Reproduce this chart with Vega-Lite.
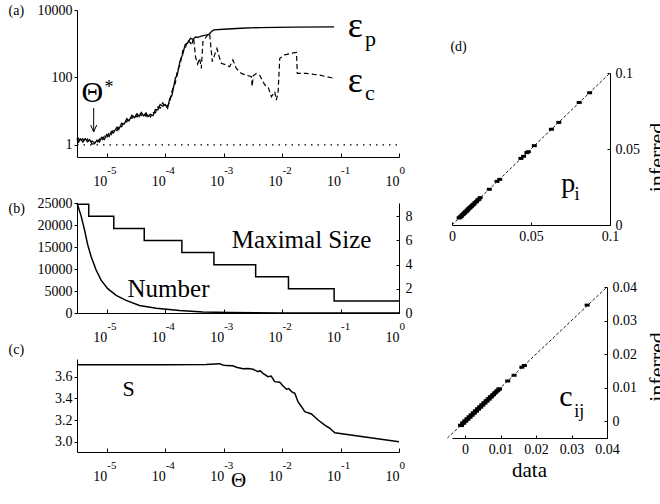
{
"$schema":"https://vega.github.io/schema/vega-lite/v6.json",
"background":"white",
"padding":{"left":8,"top":3,"right":0,"bottom":0},
"config":{"font":"Liberation Serif","view":{"stroke":null},
 "axis":{"domainColor":"black","tickColor":"black","labelColor":"black","titleColor":"black","grid":false,"labelFlush":false,"labelOverlap":false,"titleFontWeight":"normal","domainWidth":1,"tickWidth":1,"labelFont":"Liberation Serif","titleFont":"Liberation Serif","tickCount":20},
 "style":{"guide-label":{"font":"Liberation Serif"},"guide-title":{"font":"Liberation Serif"}},
 "title":{"font":"Liberation Serif","fontWeight":"normal","color":"black"}},
"spacing":33,
"hconcat":[
{"vconcat":[
 {"width":322,"height":147,
  "layer":[
   {"layer":[
   {"data":{"values":[
{"x":3.1e-6,"y":1.58},{"x":3.3e-6,"y":1.22},{"x":3.6e-6,"y":1.51},{"x":3.9e-6,"y":1.22},{"x":4.3e-6,"y":1.55},{"x":4.7e-6,"y":1.24},{"x":5.1e-6,"y":1.43},{"x":5.6e-6,"y":1.07},{"x":6.2e-6,"y":1.10},{"x":6.8e-6,"y":1.38},{"x":7.5e-6,"y":1.22},{"x":8.2e-6,"y":1.68},{"x":9.1e-6,"y":1.45},{"x":1.0e-5,"y":2.04},{"x":1.1e-5,"y":1.78},{"x":1.2e-5,"y":2.51},{"x":1.3e-5,"y":2.29},{"x":1.5e-5,"y":3.35},{"x":1.6e-5,"y":2.88},{"x":1.8e-5,"y":4.37},{"x":2.0e-5,"y":4.17},{"x":2.2e-5,"y":6.03},{"x":2.4e-5,"y":5.13},{"x":2.7e-5,"y":7.59},{"x":3.0e-5,"y":6.46},{"x":3.3e-5,"y":8.51},{"x":3.6e-5,"y":6.92},{"x":3.9e-5,"y":9.12},{"x":4.3e-5,"y":7.24},{"x":4.7e-5,"y":8.91},{"x":5.1e-5,"y":6.92},{"x":5.6e-5,"y":8.13},{"x":6.2e-5,"y":7.41},{"x":6.8e-5,"y":11.2},{"x":7.5e-5,"y":11.0},{"x":8.2e-5,"y":15.8},{"x":9.1e-5,"y":14.1},{"x":1.0e-4,"y":15.8},{"x":1.1e-4,"y":12.3},{"x":1.2e-4,"y":24.0},{"x":1.3e-4,"y":28.8},{"x":1.5e-4,"y":97.7},{"x":1.6e-4,"y":112},{"x":1.8e-4,"y":316},{"x":2.0e-4,"y":490},{"x":2.2e-4,"y":955},{"x":2.4e-4,"y":1023},{"x":2.7e-4,"y":1445},{"x":3.0e-4,"y":1349},{"x":3.3e-4,"y":1585},{"x":3.6e-4,"y":1549},{"x":4.3e-4,"y":1698},{"x":5.1e-4,"y":1820},{"x":5.6e-4,"y":1905},{"x":6.2e-4,"y":2291},{"x":6.8e-4,"y":2570},{"x":1.0e-3,"y":2690},{"x":2.0e-3,"y":2880},{"x":4.2e-3,"y":3020},{"x":1.6e-2,"y":3090},{"x":7.76e-2,"y":3160}]},
    "mark":{"type":"line","color":"black","strokeWidth":1.3},
    "encoding":{
     "x":{"field":"x","type":"quantitative","scale":{"type":"log","domain":[3.1e-6,1],"nice":false},
      "axis":{"values":[0.00001,0.0001,0.001,0.01,0.1,1],"tickCount":20,"labelExpr":"'10'","labelAlign":"right","labelBaseline":"top","labelPadding":21,"tickSize":-4,"title":null,"labelFontSize":14,"labelFont":"Liberation Serif","labelOverlap":false}},
     "y":{"field":"y","type":"quantitative","scale":{"type":"log","domain":[0.44,10000],"nice":false},
      "axis":{"values":[1,100,10000],"tickCount":20,"format":"d","tickSize":3,"labelPadding":2,"labelFontSize":14,"labelFont":"Liberation Serif","labelOverlap":false,"title":"(a)","titleFont":"Liberation Serif","titleAngle":0,"titleAlign":"left","titleBaseline":"middle","titleX":-69,"titleY":0,"titleFontSize":14}}}},
   {"data":{"values":[
{"x":3.1e-6,"y":1.32},{"x":3.3e-6,"y":1.57},{"x":3.6e-6,"y":1.26},{"x":3.9e-6,"y":1.53},{"x":4.3e-6,"y":1.20},{"x":4.7e-6,"y":1.50},{"x":5.1e-6,"y":1.19},{"x":5.6e-6,"y":1.32},{"x":6.2e-6,"y":1.17},{"x":6.8e-6,"y":1.12},{"x":7.5e-6,"y":1.50},{"x":8.2e-6,"y":1.30},{"x":9.1e-6,"y":1.82},{"x":1.0e-5,"y":1.62},{"x":1.1e-5,"y":2.29},{"x":1.2e-5,"y":2.04},{"x":1.3e-5,"y":2.82},{"x":1.5e-5,"y":2.66},{"x":1.6e-5,"y":3.63},{"x":1.8e-5,"y":3.47},{"x":2.0e-5,"y":5.13},{"x":2.2e-5,"y":4.79},{"x":2.4e-5,"y":6.61},{"x":2.7e-5,"y":6.17},{"x":3.0e-5,"y":8.13},{"x":3.3e-5,"y":6.76},{"x":3.6e-5,"y":8.91},{"x":3.9e-5,"y":7.41},{"x":4.3e-5,"y":9.12},{"x":4.7e-5,"y":7.08},{"x":5.1e-5,"y":8.71},{"x":5.6e-5,"y":6.76},{"x":6.2e-5,"y":9.12},{"x":6.8e-5,"y":8.91},{"x":7.5e-5,"y":13.5},{"x":8.2e-5,"y":12.3},{"x":9.1e-5,"y":17.8},{"x":1.0e-4,"y":12.9},{"x":1.1e-4,"y":14.8},{"x":1.2e-4,"y":18.2},{"x":1.3e-4,"y":38.9},{"x":1.5e-4,"y":70.8},{"x":1.6e-4,"y":155},{"x":1.8e-4,"y":240},{"x":2.0e-4,"y":631},{"x":2.2e-4,"y":708},{"x":2.4e-4,"y":1259},{"x":2.7e-4,"y":1072},
{"x":2.83e-4,"y":891},{"x":3.06e-4,"y":1514},{"x":3.31e-4,"y":398},{"x":3.58e-4,"y":251},{"x":3.88e-4,"y":372},{"x":4.15e-4,"y":186},{"x":4.42e-4,"y":1148},{"x":5.05e-4,"y":1622},{"x":5.75e-4,"y":2042},{"x":6.40e-4,"y":295},{"x":7.01e-4,"y":468},{"x":7.68e-4,"y":724},{"x":8.30e-4,"y":437},{"x":9.13e-4,"y":263},{"x":1.11e-3,"y":234},{"x":1.27e-3,"y":209},{"x":1.44e-3,"y":331},{"x":1.65e-3,"y":186},{"x":2.01e-3,"y":132},{"x":2.45e-3,"y":117},{"x":2.98e-3,"y":105},{"x":3.08e-3,"y":53.7},{"x":3.20e-3,"y":112},{"x":3.63e-3,"y":132},{"x":4.14e-3,"y":117},{"x":5.04e-3,"y":60.3},{"x":5.74e-3,"y":53.7},{"x":6.57e-3,"y":26.9},{"x":7.48e-3,"y":38.0},{"x":7.94e-3,"y":21.4},{"x":8.53e-3,"y":33.9},{"x":9.12e-3,"y":372},{"x":1.11e-2,"y":468},{"x":1.45e-2,"y":525},{"x":1.76e-2,"y":550},{"x":1.82e-2,"y":132},{"x":2.61e-2,"y":132},{"x":4.42e-2,"y":117},{"x":7.46e-2,"y":95.5}]},
    "mark":{"type":"line","color":"black","strokeWidth":1.2,"strokeDash":[5,3]},
    "encoding":{"x":{"field":"x","type":"quantitative"},"y":{"field":"y","type":"quantitative"}}},
   {"data":{"values":[{"x":0.133,"y":1620,"t":"ε"},{"x":0.133,"y":37.9,"t":"ε"}]},
    "mark":{"type":"text","fontSize":36,"align":"left","baseline":"alphabetic","color":"black"},
    "encoding":{"x":{"field":"x","type":"quantitative"},"y":{"field":"y","type":"quantitative"},"text":{"field":"t"}}},
   {"data":{"values":[{"x":0.262,"y":875,"t":"p"},{"x":0.262,"y":21.5,"t":"c"}]},
    "mark":{"type":"text","fontSize":22,"align":"left","baseline":"alphabetic","color":"black"},
    "encoding":{"x":{"field":"x","type":"quantitative"},"y":{"field":"y","type":"quantitative"},"text":{"field":"t"}}},
   {"data":{"values":[{"x":5.69e-6,"y":18.8,"t":"Θ"}]},
    "mark":{"type":"text","fontSize":30,"align":"center","baseline":"alphabetic","color":"black"},
    "encoding":{"x":{"field":"x","type":"quantitative"},"y":{"field":"y","type":"quantitative"},"text":{"field":"t"}}},
   {"data":{"values":[{"x":9.14e-6,"y":35.7,"t":"*"}]},
    "mark":{"type":"text","fontSize":18,"align":"left","baseline":"alphabetic","color":"black"},
    "encoding":{"x":{"field":"x","type":"quantitative"},"y":{"field":"y","type":"quantitative"},"text":{"field":"t"}}},
   {"data":{"values":[{"x":5.98e-6,"y1":12.5,"y2":2.43}]},
    "mark":{"type":"rule","color":"black","strokeWidth":1},
    "encoding":{"x":{"field":"x","type":"quantitative"},"y":{"field":"y1","type":"quantitative"},"y2":{"field":"y2"}}},
   {"data":{"values":[{"x":5.98e-6,"y":2.43}]},
    "mark":{"type":"point","shape":"M-1,-2.3L0,0L1,-2.3","size":36,"filled":false,"color":"black","strokeWidth":1,"opacity":1},
    "encoding":{"x":{"field":"x","type":"quantitative"},"y":{"field":"y","type":"quantitative"}}}
   ]},
   {"data":{"values":[{"x":3.1e-6,"y":1},{"x":1,"y":1}]},
    "mark":{"type":"line","color":"black","strokeWidth":1.2,"strokeDash":[1.5,5]},
    "encoding":{"x":{"field":"x","type":"quantitative",
      "axis":{"orient":"bottom","values":[0.00001,0.0001,0.001,0.01,0.1,1],"tickCount":20,"labelExpr":"'' + round(log(datum.value)/LN10)","labelAlign":"left","labelBaseline":"top","labelPadding":7,"labelFontSize":11,"labelFont":"Liberation Serif","labelOverlap":false,"domain":false,"ticks":false,"tickSize":0,"title":null}},
     "y":{"field":"y","type":"quantitative"}}}
  ],
  "resolve":{"axis":{"x":"independent"}}},
 {"width":322,"height":110,
  "layer":[
   {"layer":[
     {"data":{"values":[{"x":3.1e-6,"y":25000},{"x":3.64e-6,"y":22070},{"x":4.15e-6,"y":19000},{"x":4.72e-6,"y":15540},{"x":5.40e-6,"y":12850},{"x":6.58e-6,"y":9780},{"x":8.02e-6,"y":7470},{"x":1.04e-5,"y":5530},{"x":1.45e-5,"y":4010},{"x":2.15e-5,"y":2860},{"x":3.63e-5,"y":1710},{"x":7.03e-5,"y":1080},{"x":1.76e-4,"y":550},{"x":4.42e-4,"y":230},{"x":1.27e-3,"y":90},{"x":9.1e-3,"y":0},{"x":1,"y":0}]},
      "mark":{"type":"line","color":"black","strokeWidth":1.5},
      "encoding":{
       "x":{"field":"x","type":"quantitative","scale":{"type":"log","domain":[3.1e-6,1],"nice":false},
        "axis":{"values":[0.00001,0.0001,0.001,0.01,0.1,1],"tickCount":20,"labelExpr":"'10'","labelAlign":"right","labelBaseline":"top","labelPadding":21,"tickSize":-4,"title":null,"labelFontSize":14,"labelFont":"Liberation Serif","labelOverlap":false}},
       "y":{"field":"y","type":"quantitative","scale":{"domain":[0,25000],"nice":false},
        "axis":{"values":[0,5000,10000,15000,20000,25000],"tickCount":20,"format":"d","tickSize":3,"labelPadding":2,"labelFontSize":14,"labelFont":"Liberation Serif","labelOverlap":false,"title":"(b)","titleFont":"Liberation Serif","titleAngle":0,"titleAlign":"left","titleBaseline":"middle","titleX":-69,"titleY":5,"titleFontSize":14}}}},
     {"data":{"values":[{"x":1.38e-3,"y":14760,"t":"Maximal Size"},{"x":2.27e-5,"y":3620,"t":"Number"}]},
      "mark":{"type":"text","fontSize":25,"align":"left","baseline":"alphabetic","color":"black"},
      "encoding":{"x":{"field":"x","type":"quantitative"},"y":{"field":"y","type":"quantitative"},"text":{"field":"t"}}}
   ]},
   {"data":{"values":[{"x":3.1e-6,"y":9},{"x":4.92e-6,"y":8},{"x":1.32e-5,"y":7},{"x":4.38e-5,"y":6},{"x":1.93e-4,"y":5},{"x":6.82e-4,"y":4},{"x":3.53e-3,"y":3},{"x":1.285e-2,"y":2},{"x":7.76e-2,"y":1},{"x":1,"y":1}]},
    "mark":{"type":"line","interpolate":"step-after","color":"black","strokeWidth":1.5},
    "encoding":{
     "x":{"field":"x","type":"quantitative",
      "axis":{"orient":"bottom","values":[0.00001,0.0001,0.001,0.01,0.1,1],"tickCount":20,"labelExpr":"'' + round(log(datum.value)/LN10)","labelAlign":"left","labelBaseline":"top","labelPadding":7,"labelFontSize":11,"labelFont":"Liberation Serif","labelOverlap":false,"domain":false,"ticks":false,"tickSize":0,"title":null}},
     "y":{"field":"y","type":"quantitative","scale":{"domain":[0,9.1],"nice":false},
      "axis":{"orient":"right","values":[0,2,4,6,8],"tickCount":20,"format":"d","tickSize":-3,"labelPadding":9,"labelFontSize":14,"labelFont":"Liberation Serif","labelOverlap":false,"title":null}}}}
  ],
  "resolve":{"scale":{"y":"independent"},"axis":{"x":"independent","y":"independent"}}},
 {"width":322,"height":93,
  "layer":[
   {"data":{"values":[{"x":3.1e-6,"y":3.71},{"x":1e-4,"y":3.71},{"x":5e-4,"y":3.712},{"x":8.5e-4,"y":3.72},{"x":9.7e-4,"y":3.708},{"x":1.11e-3,"y":3.702},{"x":1.44e-3,"y":3.70},{"x":1.65e-3,"y":3.687},{"x":2.14e-3,"y":3.674},{"x":2.6e-3,"y":3.676},{"x":3.18e-3,"y":3.668},{"x":3.87e-3,"y":3.646},{"x":4.2e-3,"y":3.655},{"x":4.71e-3,"y":3.631},{"x":5.74e-3,"y":3.60},{"x":6.5e-3,"y":3.605},{"x":7.48e-3,"y":3.554},{"x":9.12e-3,"y":3.548},{"x":1.04e-2,"y":3.514},{"x":1.19e-2,"y":3.484},{"x":1.3e-2,"y":3.49},{"x":1.45e-2,"y":3.462},{"x":1.65e-2,"y":3.447},{"x":1.87e-2,"y":3.369},{"x":2.15e-2,"y":3.323},{"x":2.44e-2,"y":3.277},{"x":3.18e-2,"y":3.256},{"x":4.13e-2,"y":3.20},{"x":5.38e-2,"y":3.154},{"x":6.56e-2,"y":3.124},{"x":7.98e-2,"y":3.083},{"x":1,"y":3.0}]},
    "mark":{"type":"line","color":"black","strokeWidth":1.5},
    "encoding":{
     "x":{"field":"x","type":"quantitative","scale":{"type":"log","domain":[3.1e-6,1],"nice":false},
      "axis":{"values":[0.00001,0.0001,0.001,0.01,0.1,1],"tickCount":20,"labelExpr":"'10'","labelAlign":"right","labelBaseline":"top","labelPadding":21,"tickSize":-4,"labelFontSize":14,"labelFont":"Liberation Serif","labelOverlap":false,"title":"Θ","titleFont":"Liberation Serif","titleFontSize":21,"titleX":161,"titleY":28,"titleAlign":"center","titleBaseline":"middle"}},
     "y":{"field":"y","type":"quantitative","scale":{"domain":[2.905,3.763],"nice":false,"zero":false},
      "axis":{"values":[3.0,3.2,3.4,3.6],"tickCount":20,"format":".1f","tickSize":3,"labelPadding":2,"labelFontSize":14,"labelFont":"Liberation Serif","labelOverlap":false,"title":"(c)","titleFont":"Liberation Serif","titleAngle":0,"titleAlign":"left","titleBaseline":"middle","titleX":-69,"titleY":-10,"titleFontSize":14}}}},
   {"data":{"values":[{"x":1.86e-5,"y":3.422,"t":"S"}]},
    "mark":{"type":"text","fontSize":22,"align":"left","baseline":"alphabetic","color":"black"},
    "encoding":{
     "x":{"field":"x","type":"quantitative",
      "axis":{"orient":"bottom","values":[0.00001,0.0001,0.001,0.01,0.1,1],"tickCount":20,"labelExpr":"'' + round(log(datum.value)/LN10)","labelAlign":"left","labelBaseline":"top","labelPadding":7,"labelFontSize":11,"labelFont":"Liberation Serif","labelOverlap":false,"domain":false,"ticks":false,"tickSize":0,"title":null}},
     "y":{"field":"y","type":"quantitative"},"text":{"field":"t"}}}
  ],
  "resolve":{"axis":{"x":"independent"}}}
 ],
 "spacing":46,"bounds":"flush"},
{"vconcat":[
 {"width":158,"height":1,"data":{"values":[{}]},"mark":{"type":"text","text":""},"encoding":{}},
 {"width":158,"height":152,
  "layer":[
   {"data":{"values":[{"x":0,"y":0},{"x":0.1,"y":0.1}]},
    "mark":{"type":"line","color":"black","strokeWidth":0.9,"strokeDash":[3,2]},
    "encoding":{"x":{"field":"x","type":"quantitative"},"y":{"field":"y","type":"quantitative"}}},
   {"data":{"values":[{"x":0.0045,"y":0.0047},{"x":0.005,"y":0.0048},{"x":0.0055,"y":0.0057},{"x":0.006,"y":0.0058},{"x":0.0065,"y":0.0067},{"x":0.007,"y":0.0069},{"x":0.0075,"y":0.0077},{"x":0.008,"y":0.0079},{"x":0.0085,"y":0.0087},{"x":0.009,"y":0.0088},{"x":0.0095,"y":0.0097},{"x":0.010,"y":0.0099},{"x":0.0105,"y":0.0107},{"x":0.011,"y":0.0111},{"x":0.0115,"y":0.0114},{"x":0.012,"y":0.0122},{"x":0.0125,"y":0.0124},{"x":0.013,"y":0.0132},{"x":0.0138,"y":0.0136},{"x":0.0145,"y":0.0147},{"x":0.0155,"y":0.0154},{"x":0.0163,"y":0.0165},{"x":0.017,"y":0.0169},{"x":0.0178,"y":0.0180},{"x":0.0236,"y":0.0235},{"x":0.0285,"y":0.0287},{"x":0.0302,"y":0.0300},{"x":0.0436,"y":0.0438},{"x":0.0453,"y":0.0452},{"x":0.0474,"y":0.0476},{"x":0.0483,"y":0.0482},{"x":0.0521,"y":0.0522},{"x":0.0629,"y":0.0630},{"x":0.0676,"y":0.0675},{"x":0.0805,"y":0.0806},{"x":0.0871,"y":0.0870}]},
    "mark":{"type":"point","shape":"M-1,-0.6L1,-0.6L1,0.6L-1,0.6Z","size":25,"filled":true,"color":"black","opacity":1},
    "encoding":{
     "x":{"field":"x","type":"quantitative","scale":{"domain":[0,0.1],"nice":false},
      "axis":{"values":[0,0.05,0.1],"tickCount":20,"format":".2~f","tickSize":-3,"labelPadding":7,"labelFontSize":14,"labelFont":"Liberation Serif","labelOverlap":false,"title":null}},
     "y":{"field":"y","type":"quantitative","scale":{"domain":[0,0.1],"nice":false},
      "axis":{"orient":"right","values":[0,0.05,0.1],"tickCount":20,"format":".2~f","tickSize":-3,"labelPadding":8,"labelFontSize":14,"labelFont":"Liberation Serif","labelOverlap":false,"title":"inferred","titleFont":"Liberation Serif","titleAngle":270,"titleFontSize":22,"titleX":46.5,"titleY":84,"titleAlign":"center","titleBaseline":"middle"}}}},
   {"data":{"values":[{"x":0.0692,"y":0.0219,"t":"p"}]},
    "mark":{"type":"text","fontSize":28,"align":"left","baseline":"alphabetic","color":"black"},
    "encoding":{"x":{"field":"x","type":"quantitative"},"y":{"field":"y","type":"quantitative"},"text":{"field":"t"}}},
   {"data":{"values":[{"x":0.0775,"y":0.0164,"t":"i"}]},
    "mark":{"type":"text","fontSize":18,"align":"left","baseline":"alphabetic","color":"black"},
    "encoding":{"x":{"field":"x","type":"quantitative"},"y":{"field":"y","type":"quantitative"},"text":{"field":"t"}}},
   {"data":{"values":[{"x":-0.001,"y":0.1171,"t":"(d)"}]},
    "mark":{"type":"text","fontSize":14,"align":"left","baseline":"middle","color":"black"},
    "encoding":{"x":{"field":"x","type":"quantitative"},"y":{"field":"y","type":"quantitative"},"text":{"field":"t"}}}
  ]},
 {"width":155,"height":151,
  "layer":[
   {"data":{"values":[{"x":-0.005,"y":-0.005},{"x":0.04,"y":0.04}]},
    "mark":{"type":"line","color":"black","strokeWidth":0.9,"strokeDash":[3,2]},
    "encoding":{"x":{"field":"x","type":"quantitative"},"y":{"field":"y","type":"quantitative"}}},
   {"data":{"values":[{"x":-0.0013,"y":-0.0012},{"x":-0.0010,"y":-0.0013},{"x":-0.0007,"y":-0.0005},{"x":-0.0004,"y":-0.0006},{"x":-0.0001,"y":0.0001},{"x":0.0002,"y":0.0000},{"x":0.0005,"y":0.0007},{"x":0.0008,"y":0.0006},{"x":0.0011,"y":0.0013},{"x":0.0014,"y":0.0012},{"x":0.0017,"y":0.0019},{"x":0.0020,"y":0.0018},{"x":0.0023,"y":0.0025},{"x":0.0026,"y":0.0024},{"x":0.0029,"y":0.0031},{"x":0.0032,"y":0.0030},{"x":0.0035,"y":0.0037},{"x":0.0038,"y":0.0036},{"x":0.0041,"y":0.0043},{"x":0.0044,"y":0.0042},{"x":0.0047,"y":0.0049},{"x":0.0050,"y":0.0048},{"x":0.0053,"y":0.0055},{"x":0.0056,"y":0.0054},{"x":0.0059,"y":0.0061},{"x":0.0062,"y":0.0060},{"x":0.0065,"y":0.0067},{"x":0.0068,"y":0.0066},{"x":0.0071,"y":0.0073},{"x":0.0074,"y":0.0072},{"x":0.0077,"y":0.0078},{"x":0.0080,"y":0.0079},{"x":0.0083,"y":0.0084},{"x":0.0086,"y":0.0085},{"x":0.0089,"y":0.0090},{"x":0.0092,"y":0.0091},{"x":0.0095,"y":0.0096},{"x":0.0097,"y":0.0096},{"x":0.0120,"y":0.0120},{"x":0.0138,"y":0.0137},{"x":0.0160,"y":0.0161},{"x":0.0167,"y":0.0166},{"x":0.0344,"y":0.0346}]},
    "mark":{"type":"point","shape":"M-1,-0.6L1,-0.6L1,0.6L-1,0.6Z","size":25,"filled":true,"color":"black","opacity":1},
    "encoding":{
     "x":{"field":"x","type":"quantitative","scale":{"domain":[-0.0037,0.04],"nice":false,"zero":false},
      "axis":{"values":[0,0.01,0.02,0.03,0.04],"tickCount":20,"format":".2~f","tickSize":-3,"labelPadding":7,"labelFontSize":14,"labelFont":"Liberation Serif","labelOverlap":false,"title":"data","titleFont":"Liberation Serif","titleFontSize":21,"titleX":77,"titleY":32,"titleAlign":"center","titleBaseline":"middle"}},
     "y":{"field":"y","type":"quantitative","scale":{"domain":[-0.005,0.04],"nice":false,"zero":false},
      "axis":{"orient":"right","values":[0,0.01,0.02,0.03,0.04],"tickCount":20,"format":".2~f","tickSize":-3,"labelPadding":8,"labelFontSize":14,"labelFont":"Liberation Serif","labelOverlap":false,"title":"inferred","titleFont":"Liberation Serif","titleAngle":270,"titleFontSize":22,"titleX":49.5,"titleY":79.5,"titleAlign":"center","titleBaseline":"middle"}}}},
   {"data":{"values":[{"x":0.02656,"y":0.00453,"t":"c"}]},
    "mark":{"type":"text","fontSize":30,"align":"left","baseline":"alphabetic","color":"black"},
    "encoding":{"x":{"field":"x","type":"quantitative"},"y":{"field":"y","type":"quantitative"},"text":{"field":"t"}}},
   {"data":{"values":[{"x":0.03079,"y":0.00125,"t":"ij"}]},
    "mark":{"type":"text","fontSize":18,"align":"left","baseline":"alphabetic","color":"black"},
    "encoding":{"x":{"field":"x","type":"quantitative"},"y":{"field":"y","type":"quantitative"},"text":{"field":"t"}}}
  ]}
 ],
 "spacing":62,"bounds":"flush"}
]
}
